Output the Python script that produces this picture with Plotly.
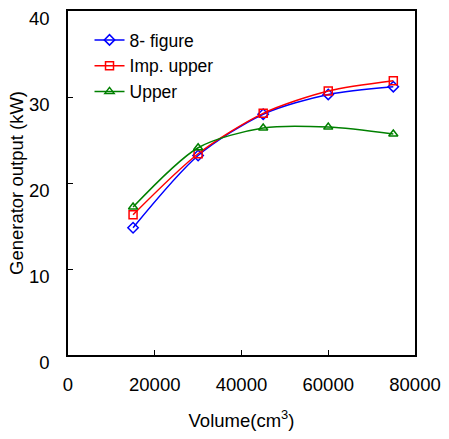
import plotly.graph_objects as go

volume = [15000, 30000, 45000, 60000, 75000]
eight_figure = [14.8, 23.2, 28.0, 30.3, 31.2]
imp_upper = [16.3, 23.4, 28.1, 30.7, 31.9]
upper = [17.2, 24.1, 26.4, 26.5, 25.7]

x_ticks = [0, 20000, 40000, 60000, 80000]
y_ticks = [0, 10, 20, 30, 40]

series = [
    ("8- figure", eight_figure, "#0000ff", "diamond-open"),
    ("Imp. upper", imp_upper, "#ff0000", "square-open"),
    ("Upper", upper, "#008000", "triangle-up-open"),
]

fig = go.Figure()
for name, vals, color, sym in series:
    fig.add_trace(go.Scatter(
        x=volume, y=vals, name=name, mode="lines+markers",
        line=dict(color=color, width=1.5, shape="spline", smoothing=0.8),
        marker=dict(symbol=sym, size=8, color=color, line=dict(color=color, width=1.5)),
    ))

font = dict(family="Liberation Sans, Arial, sans-serif", size=18.5, color="black")
legend_font = dict(family="Liberation Sans, Arial, sans-serif", size=17.5, color="black")

fig.update_layout(
    width=449, height=439,
    margin=dict(l=68, r=28, t=8, b=84),
    paper_bgcolor="white", plot_bgcolor="white",
    font=font,
    showlegend=True,
    legend=dict(x=0.062, y=0.968, xanchor="left", yanchor="top",
                bgcolor="rgba(0,0,0,0)", font=legend_font, itemwidth=30,
                tracegroupgap=0),
)
fig.update_xaxes(
    range=[0, 80000], tickvals=x_ticks, ticktext=[str(v) for v in x_ticks],
    showgrid=False, zeroline=False, showline=True, linecolor="black", linewidth=1.5,
    mirror=True, ticks="inside", ticklen=5, tickcolor="black",
    ticklabelstandoff=12,
    title=dict(text="Volume(cm<sup>3</sup>)", font=font, standoff=20),
)
fig.update_yaxes(
    range=[0, 40], tickvals=y_ticks, ticktext=[str(v) for v in y_ticks],
    showgrid=False, zeroline=False, showline=True, linecolor="black", linewidth=1.5,
    mirror=True, ticks="inside", ticklen=5, tickcolor="black",
    ticklabelstandoff=13, ticklabelshift=8, ticklabeloverflow="allow",
    title=dict(text="Generator output (kW)", font=font, standoff=0),
)

fig.write_html("out.html")
